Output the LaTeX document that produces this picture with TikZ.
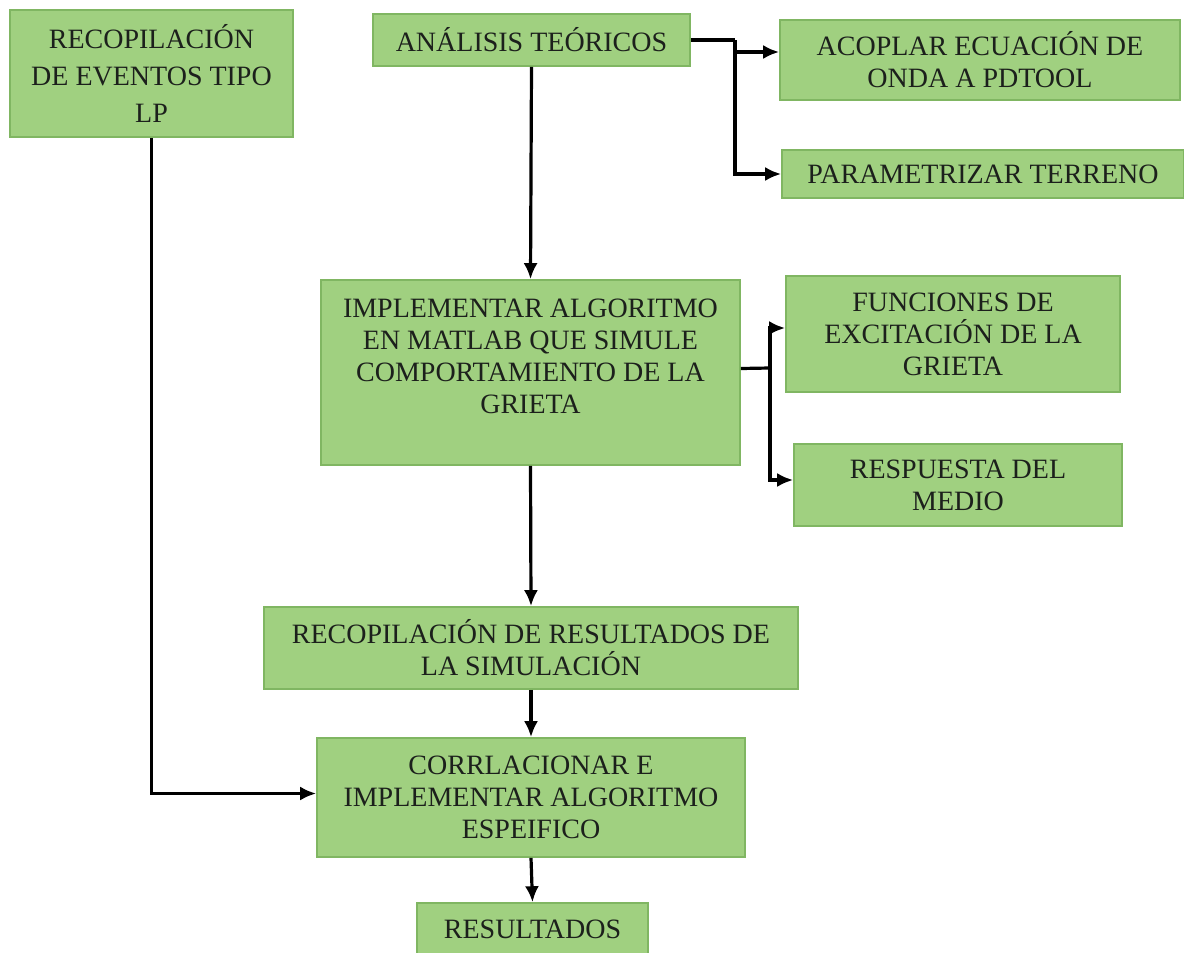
\documentclass[tikz,border=0pt]{standalone}
\usepackage{fontspec}
\setmainfont{Liberation Serif}
\usetikzlibrary{arrows.meta}
\definecolor{verdecaja}{RGB}{160,208,128}
\definecolor{bordecaja}{RGB}{128,182,98}
\definecolor{textocaja}{RGB}{28,32,28}

\begin{document}
\begin{tikzpicture}[x=0.5pt,y=-0.5pt,
  caja/.style={fill=verdecaja, draw=bordecaja, line width=0.8pt, text=textocaja,
    align=center, inner sep=0pt, font=\fontsize{14}{16}\selectfont},
  flecha/.style={black, line width=1.6pt, -{Latex[length=8pt, width=7pt]}},
  linea/.style={black, line width=1.6pt}]
\useasboundingbox (0,0) rectangle (1184,953);
\fill[white] (0,0) rectangle (1184,953);
\node[caja, minimum width=141.5pt, minimum height=63.5pt,
  font=\fontsize{14}{18.5}\selectfont] (recopEventos) at (151.5,73.5)
  {RECOPILACIÓN\\DE EVENTOS TIPO\\LP};
\node[caja, minimum width=158.5pt, minimum height=26pt] (analisis) at (531.5,40)
  {ANÁLISIS TEÓRICOS};
\node[caja, minimum width=200pt, minimum height=40pt] (acoplar) at (980,60)
  {ACOPLAR ECUACIÓN DE\\ONDA A PDTOOL};
\node[caja, minimum width=201pt, minimum height=24pt] (parametrizar) at (983,174)
  {PARAMETRIZAR TERRENO};
\node[caja, minimum width=209.5pt, minimum height=92.5pt] (implementar) at (530.5,372.5)
  {IMPLEMENTAR ALGORITMO\\EN MATLAB QUE SIMULE\\COMPORTAMIENTO DE LA\\GRIETA\\ \mbox{}};
\node[caja, minimum width=167pt, minimum height=58pt] (funciones) at (953,334)
  {FUNCIONES DE\\EXCITACIÓN DE LA\\GRIETA};
\node[caja, minimum width=164pt, minimum height=41pt] (respuesta) at (958,485)
  {RESPUESTA DEL\\MEDIO};
\node[caja, minimum width=267pt, minimum height=41pt] (recopResultados) at (531,648)
  {RECOPILACIÓN DE RESULTADOS DE\\LA SIMULACIÓN};
\node[caja, minimum width=214pt, minimum height=59.5pt] (correlacionar) at (531,797.5)
  {CORRLACIONAR E\\IMPLEMENTAR ALGORITMO\\ESPEIFICO};
\node[caja, minimum width=115.5pt, minimum height=26pt] (resultados) at (532.5,929)
  {RESULTADOS};
% ramas laterales
\coordinate (ramaTeoria) at (735,40);
\coordinate (ramaGrieta) at (770,368);
\draw[linea] (analisis.east) -- (ramaTeoria);
\draw[flecha] (ramaTeoria) |- ([yshift=4pt]acoplar.west);
\draw[flecha] (ramaTeoria) |- (parametrizar.west);
\draw[linea] ([yshift=2pt]implementar.east) -- (ramaGrieta);
\draw[flecha] (ramaGrieta) |- ([yshift=3pt]funciones.west);
\draw[flecha] (ramaGrieta) |- ([yshift=2.5pt]respuesta.west);
% flujo principal
\draw[flecha] (analisis.south) -- (implementar.north);
\draw[flecha] (implementar.south) -- (recopResultados.north);
\draw[flecha] (recopResultados.south) -- (correlacionar.north);
\draw[flecha] (correlacionar.south) -- (resultados.north);
\draw[flecha] (recopEventos.south) |- ([yshift=2pt]correlacionar.west);
\end{tikzpicture}
\end{document}
